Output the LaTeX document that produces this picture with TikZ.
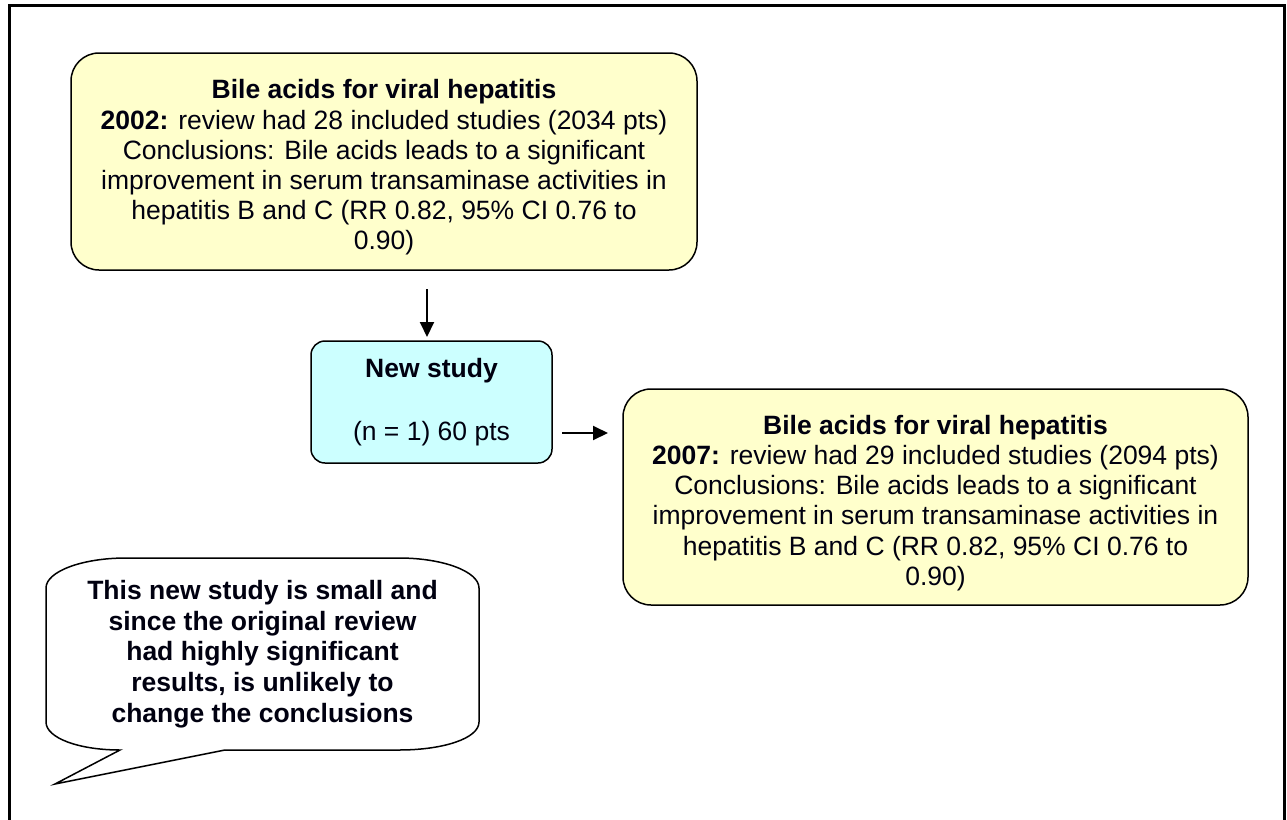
\documentclass[tikz,border=0pt]{standalone}
\usepackage{fontspec}
\setmainfont{Liberation Sans}
\usetikzlibrary{arrows.meta}
\definecolor{boxyellow}{HTML}{FFFFCC}
\definecolor{boxcyan}{HTML}{CCFFFF}
\definecolor{txt}{HTML}{000010}
\begin{document}
\begin{tikzpicture}[x=1pt,y=-1pt,
  every node/.style={text=txt,font=\fontsize{26.5}{30.2}\selectfont},
  revbox/.style={draw=black,line width=1.5pt,fill=boxyellow,rectangle,rounded corners=28pt,
    minimum width=626pt,minimum height=217pt,inner sep=0pt},
  revtext/.style={align=center,inner sep=0pt},
  studybox/.style={draw=black,line width=1.5pt,fill=boxcyan,rectangle,rounded corners=14pt,
    minimum width=241pt,minimum height=122pt,inner sep=0pt,align=center},
  arr/.style={line width=2pt,-{Triangle[length=15pt,width=14pt]}},
  frame/.style={line width=3pt}]
\useasboundingbox (0,0) rectangle (1287,819);
\draw[frame] (9,830) -- (9,5) -- (1284,5) -- (1284,830);

\node[revbox] (top) at (384,161.5) {};
\node[revtext] (toptext) at ([yshift=-6pt]top.center) {\textbf{Bile acids for viral hepatitis}\\
\textbf{2002:} review had 28 included studies (2034 pts)\\
Conclusions: Bile acids leads to a significant\\
improvement in serum transaminase activities in\\
hepatitis B and C (RR 0.82, 95\% CI 0.76 to\\
0.90)};

\node[studybox] (ns) at (431.5,402) {\textbf{New study}\\[33pt](n = 1) 60 pts};

\node[revbox,minimum width=625pt,minimum height=216pt] (bot) at (935.5,497) {};
\node[revtext] (bottext) at ([yshift=-6pt]bot.center) {\textbf{Bile acids for viral hepatitis}\\
\textbf{2007:} review had 29 included studies (2094 pts)\\
Conclusions: Bile acids leads to a significant\\
improvement in serum transaminase activities in\\
hepatitis B and C (RR 0.82, 95\% CI 0.76 to\\
0.90)};

\coordinate (d1) at (427,289);
\coordinate (d2) at (427,337);
\coordinate (r1) at (562,433);
\coordinate (r2) at (608,433);
\draw[arr] (d1) -- (d2);
\draw[arr] (r1) -- (r2);

\draw[line width=1.5pt,fill=white,line join=miter]
  (46,588) .. controls (46,571.5) and (82,558) .. (126,558)
  -- (399,558)
  .. controls (443,558) and (479,571.5) .. (479,588)
  -- (479,722)
  .. controls (479,738.5) and (443,750) .. (399,750)
  -- (225,750) -- (55,784) -- (120,750)
  .. controls (79,750) and (46,738) .. (46,722)
  -- cycle;
\node[align=center,font=\fontsize{26.5}{30.6}\selectfont\bfseries] (callout) at (262.5,654)
  {This new study is small and\\since the original review\\had highly significant\\results, is unlikely to\\change the conclusions};
\end{tikzpicture}
\end{document}
